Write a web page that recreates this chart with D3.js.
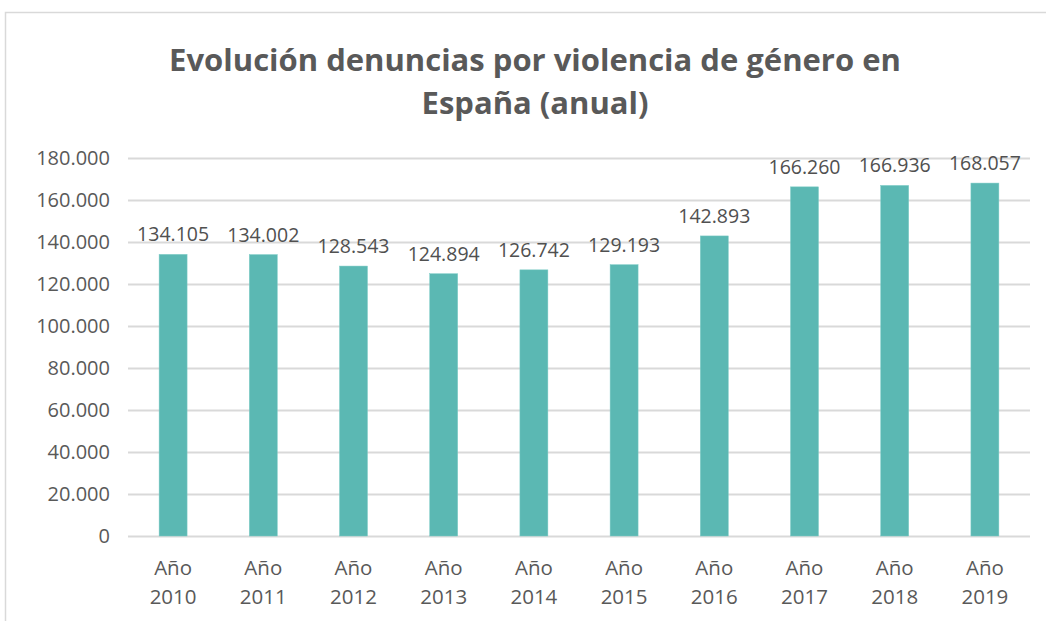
<!DOCTYPE html>
<html>
<head>
<meta charset="utf-8">
<script src="https://cdn.jsdelivr.net/npm/d3@7"></script>
<style>
  body { margin: 0; background: #fff; }
  text { font-family: "Open Sans", "Liberation Sans", sans-serif; }
</style>
</head>
<body>
<div id="chart"></div>
<script>
// datos
const years = ["2010", "2011", "2012", "2013", "2014", "2015", "2016", "2017", "2018", "2019"]
const denuncias = [134105, 134002, 128543, 124894, 126742, 129193, 142893, 166260, 166936, 168057]
const yTicks = [0, 20000, 40000, 60000, 80000, 100000, 120000, 140000, 160000, 180000]

const W = 1046, H = 621
const margin = { top: 158, right: 16, bottom: 85, left: 128 }
const width = W - margin.left - margin.right
const height = H - margin.top - margin.bottom

const svg = d3.select("#chart").append("svg")
    .attr("width", W)
    .attr("height", H)

// borde del gráfico
svg.append("rect")
    .attr("x", 5.5).attr("y", 12.5)
    .attr("width", W + 10).attr("height", H + 10)
    .attr("fill", "none")
    .attr("stroke", "#d9d9d9")
    .attr("stroke-width", 1.5)

// titulo
const title = svg.append("text")
    .attr("text-anchor", "middle")
    .attr("font-size", 31)
    .attr("font-weight", "bold")
    .attr("fill", "#595959")
title.append("tspan").attr("x", 535).attr("y", 71).text("Evolución denuncias por violencia de género en")
title.append("tspan").attr("x", 535).attr("y", 114).text("España (anual)")

const g = svg.append("g").attr("transform", "translate(" + margin.left + "," + margin.top + ")")

const x = d3.scaleBand()
    .domain(years)
    .range([0, width])
    .paddingInner(0.69)
    .paddingOuter(0.345)

const y = d3.scaleLinear()
    .domain([0, 180000])
    .range([height, 0])

const fmt = d => d3.format(",")(d).replace(/,/g, ".")

// lineas de la cuadricula
g.append("g")
    .call(d3.axisLeft(y).tickValues(yTicks).tickSize(-width).tickFormat(fmt).tickPadding(18))
    .call(a => a.select(".domain").remove())
    .call(a => a.selectAll(".tick line").attr("stroke", "#d9d9d9").attr("stroke-width", 2))
    .call(a => a.selectAll(".tick text").attr("font-size", 20).attr("fill", "#595959")
        .attr("font-family", "'Open Sans', sans-serif"))

// barras
g.selectAll(".bar")
    .data(denuncias)
    .join("rect")
    .attr("class", "bar")
    .attr("x", (d, i) => x(years[i]))
    .attr("y", d => y(d))
    .attr("width", x.bandwidth())
    .attr("height", d => height - y(d))
    .attr("fill", "#5bb8b3")
    .attr("stroke", "#7ccbc6")
    .attr("stroke-width", 0.5)

// etiquetas de datos
g.selectAll(".label")
    .data(denuncias)
    .join("text")
    .attr("class", "label")
    .attr("x", (d, i) => x(years[i]) + x.bandwidth() / 2)
    .attr("y", d => y(d) - 13)
    .attr("text-anchor", "middle")
    .attr("font-size", 19.5)
    .attr("fill", "#505050")
    .text(fmt)

// eje x
const xl = g.selectAll(".xlab")
    .data(years)
    .join("text")
    .attr("class", "xlab")
    .attr("text-anchor", "middle")
    .attr("font-size", 20.5)
    .attr("fill", "#595959")
xl.append("tspan")
    .attr("x", d => x(d) + x.bandwidth() / 2)
    .attr("y", height + 39)
    .text("Año")
xl.append("tspan")
    .attr("x", d => x(d) + x.bandwidth() / 2)
    .attr("y", height + 68)
    .text(d => d)
</script>
</body>
</html>
